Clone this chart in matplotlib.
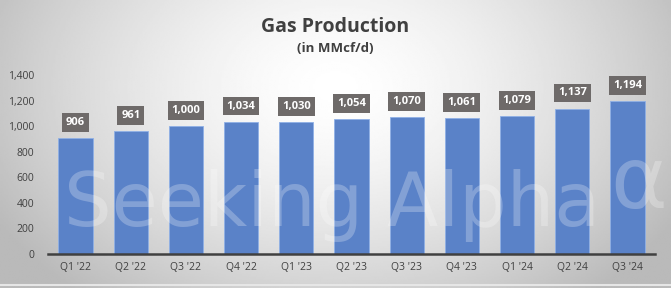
import numpy as np
import matplotlib.pyplot as plt

quarters = ["Q1 '22", "Q2 '22", "Q3 '22", "Q4 '22", "Q1 '23", "Q2 '23",
            "Q3 '23", "Q4 '23", "Q1 '24", "Q2 '24", "Q3 '24"]
production = [906, 961, 1000, 1034, 1030, 1054, 1070, 1061, 1079, 1137, 1194]
yticks = [0, 200, 400, 600, 800, 1000, 1200, 1400]

plt.rcParams['font.family'] = ['Open Sans', 'DejaVu Sans']

fig = plt.figure(figsize=(6.71, 2.88), dpi=100)

# radial gradient background (Excel style)
bg = fig.add_axes([0, 0, 1, 1], zorder=-10)
gx, gy = np.meshgrid(np.linspace(0, 1, 400), np.linspace(0, 1, 200))
r = np.sqrt(((gx - 0.5) / 0.58) ** 2 + ((gy - 0.3) / 0.95) ** 2)
r = np.clip(r, 0, 1)
shade = 1.0 - 0.27 * r ** 1.5
bg.imshow(shade, cmap='gray', vmin=0, vmax=1, extent=[0, 1, 0, 1],
          aspect='auto', origin='upper')
bg.plot([0, 1], [0.012, 0.012], color='#e6e6e6', lw=1.5)
bg.set_xlim(0, 1)
bg.set_ylim(0, 1)
bg.axis('off')

ax = fig.add_axes([48 / 671, (288 - 254) / 288, 607 / 671, 179 / 288])
ax.patch.set_alpha(0)
x = np.arange(len(quarters))
ax.bar(x, production, width=0.62, color='#5a82c8', edgecolor='#8fb0e6',
       linewidth=0.6, zorder=2)

for xi, v in zip(x, production):
    ax.text(xi, v + 80, f"{v:,}", ha='center', va='bottom', color='white',
            fontsize=8, fontweight='bold', zorder=4,
            bbox=dict(boxstyle='square,pad=0.35', fc='#6e6a69', ec='none'))

ax.set_xlim(-0.5, len(quarters) - 0.5)
ax.set_ylim(0, 1400)
ax.set_yticks(yticks)
ax.set_yticklabels([f"{t:,}" for t in yticks])
ax.set_xticks(x)
ax.set_xticklabels(quarters)
ax.tick_params(axis='both', length=0, labelsize=7.5, colors='#404040')
ax.tick_params(axis='y', pad=10)
ax.tick_params(axis='x', pad=6)
for s in ['top', 'right', 'left']:
    ax.spines[s].set_visible(False)
ax.spines['bottom'].set_color('#404040')
ax.spines['bottom'].set_linewidth(1.8)
ax.spines['bottom'].set_zorder(3)

# watermark
fig.text(0.495, 0.285, "Seeking Alpha", fontsize=54, color='white', alpha=0.25,
         ha='center', va='center', family='DejaVu Sans', zorder=5)
fig.text(0.952, 0.36, "\u03b1", fontsize=62, color='white', alpha=0.25,
         ha='center', va='center', family='DejaVu Sans', zorder=5)

fig.text(0.5, 1 - 27 / 288, "Gas Production", ha='center', va='center',
         fontsize=14, fontweight='bold', color='#404040')
fig.text(0.5, 1 - 49 / 288, "(in MMcf/d)", ha='center', va='center',
         fontsize=9.5, fontweight='bold', color='#404040')

fig.savefig('out.png', dpi=100)
